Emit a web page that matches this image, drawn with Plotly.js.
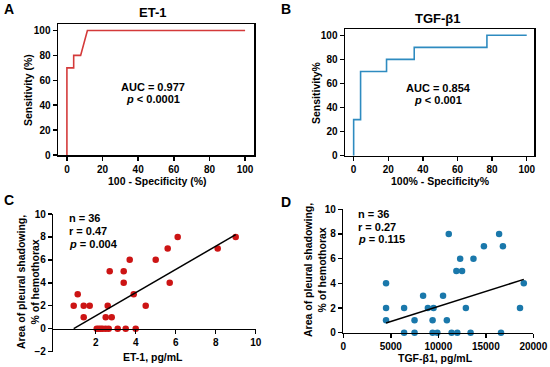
<!DOCTYPE html>
<html>
<head>
<meta charset="utf-8">
<script src="https://cdn.plot.ly/plotly-3.0.1.min.js"></script>
<style>html,body{margin:0;padding:0;background:#fff;}#chart{width:550px;height:367px;}</style>
</head>
<body>
<div id="chart"></div>
<script>
// ---- data ----
const rocA_fpr = [0, 0, 3.8, 3.8, 7.7, 11.5, 100];
const rocA_tpr = [0, 70, 70, 80, 80, 100, 100];
const rocB_fpr = [0, 0, 4, 4, 19, 19, 35, 35, 77, 77, 100];
const rocB_tpr = [0, 30, 30, 70, 70, 80, 80, 90, 90, 100, 100];

const et1_x = [0.9, 1.1, 1.4, 1.4, 1.7, 2.05, 2.15, 2.25, 2.35, 2.5, 2.65, 2.5, 2.6, 2.7, 2.8, 3.1, 3.4, 3.4, 3.5, 3.7, 3.9, 4.0, 4.5, 5.0, 5.6, 5.7, 6.1, 8.1, 9.0];
const et1_y = [2, 3, 2, 1, 2, 0, 0, 0, 0, 0, 0, 1, 2, 5, 1, 0, 5, 4, 0, 6, 3, 0, 2, 6, 7, 4, 8, 7, 8];
const et1_fit_x = [0.9, 9.0];
const et1_fit_y = [0, 8.2];

const tgf_x = [4500, 4500, 4500, 6400, 6400, 7500, 7500, 8400, 8900, 9500, 9400, 9400, 9900, 10500, 10900, 11100, 11400, 11900, 12500, 12300, 12000, 12900, 13400, 13700, 14800, 16400, 16800, 16600, 18600, 19000];
const tgf_y = [4, 2, 1, 2, 0, 1, 0, 3, 2, 2, 1, 0, 0, 3, 1, 8, 0, 5, 5, 6, 0, 2, 0, 6, 7, 8, 7, 0, 2, 4];
const tgf_fit_x = [4500, 19000];
const tgf_fit_y = [0.78, 4.32];

const rocTicks = [0, 20, 40, 60, 80, 100];
const cYTicks = [-2, 0, 2, 4, 6, 8, 10];
const cXTicks = [2, 4, 6, 8, 10];
const dXTicks = [0, 5000, 10000, 15000, 20000];
const dYTicks = [0, 2, 4, 6, 8, 10];

// ---- layout helpers ----
const W = 550, H = 367;
const fx = p => p / W;
const fy = p => 1 - p / H;
const FONT = 'Liberation Sans, Arial, sans-serif';
const RED_LINE = '#d43a3a', RED_DOT = '#cc1414';
const BLUE_LINE = '#2e8bc0', BLUE_DOT = '#1a78ab';

function ax(extra) {
  return Object.assign({
    showline: true, linecolor: '#000', linewidth: 1.5,
    ticks: 'outside', ticklen: 4, tickwidth: 1.5, tickcolor: '#000',
    showgrid: false, zeroline: false, fixedrange: true,
    tickfont: {family: FONT, size: 10, color: '#000', weight: 'bold'}
  }, extra);
}

const cYDom = [fy(351.6), fy(214)];
const cYRange = [-2, 10];
const cXPos = cYDom[0] + (cYDom[1] - cYDom[0]) * (0 - cYRange[0]) / (cYRange[1] - cYRange[0]);

const traces = [
  {x: rocA_fpr, y: rocA_tpr, xaxis: 'x', yaxis: 'y', mode: 'lines', line: {color: RED_LINE, width: 1.6}, cliponaxis: false, hoverinfo: 'skip'},
  {x: rocB_fpr, y: rocB_tpr, xaxis: 'x2', yaxis: 'y2', mode: 'lines', line: {color: BLUE_LINE, width: 1.6}, cliponaxis: false, hoverinfo: 'skip'},
  {x: et1_x, y: et1_y, xaxis: 'x3', yaxis: 'y3', mode: 'markers', marker: {color: RED_DOT, size: 6.5}, cliponaxis: false},
  {x: et1_fit_x, y: et1_fit_y, xaxis: 'x3', yaxis: 'y3', mode: 'lines', line: {color: '#000', width: 1.5}, cliponaxis: false},
  {x: tgf_x, y: tgf_y, xaxis: 'x4', yaxis: 'y4', mode: 'markers', marker: {color: BLUE_DOT, size: 6.5}, cliponaxis: false},
  {x: tgf_fit_x, y: tgf_fit_y, xaxis: 'x4', yaxis: 'y4', mode: 'lines', line: {color: '#000', width: 1.5}, cliponaxis: false}
];

function ann(text, px, py, opts) {
  return Object.assign({
    text: text, xref: 'paper', yref: 'paper', x: fx(px), y: fy(py),
    xanchor: 'center', yanchor: 'middle', showarrow: false,
    font: {family: FONT, size: 11, color: '#000', weight: 'bold'}
  }, opts || {});
}
const big = {family: FONT, size: 14, color: '#000', weight: 'bold'};
const ttl = {family: FONT, size: 13, color: '#000', weight: 'bold'};
const axt = {family: FONT, size: 10.5, color: '#000', weight: 'bold'};

const annotations = [
  ann('A', 9, 9, {font: big}),
  ann('B', 286, 9, {font: big}),
  ann('C', 9, 200, {font: big}),
  ann('D', 286, 202, {font: big}),
  ann('ET-1', 152, 13, {font: ttl}),
  ann('TGF-β1', 438, 18, {font: ttl}),
  ann('100 - Specificity (%)', 157, 181, {font: axt}),
  ann('100% - Specificity%', 440, 181, {font: axt}),
  ann('Sensitivity (%)', 28, 90, {font: axt, textangle: -90}),
  ann('Sensitivity%', 316, 93, {font: axt, textangle: -90}),
  ann('Area of pleural shadowing,<br>% of hemothorax', 28, 282, {font: axt, textangle: -90}),
  ann('Area of pleural shadowing,<br>% of hemothorax', 315, 270, {font: axt, textangle: -90}),
  ann('ET-1, pg/mL', 153, 357, {font: axt}),
  ann('TGF-β1, pg/mL', 435, 358, {font: axt}),
  ann('AUC = 0.977', 153, 87),
  ann('<i>p</i> < 0.0001', 153, 99),
  ann('AUC = 0.854', 438, 88),
  ann('<i>p</i> < 0.001', 438, 100),
  ann('n = 36', 67, 218, {xanchor: 'left'}),
  ann('r = 0.47', 67, 231, {xanchor: 'left'}),
  ann('<i>p</i> = 0.004', 67, 244, {xanchor: 'left'}),
  ann('n = 36', 356, 214, {xanchor: 'left'}),
  ann('r = 0.27', 356, 227, {xanchor: 'left'}),
  ann('<i>p</i> = 0.115', 356, 239, {xanchor: 'left'})
];

const layout = {
  width: W, height: H, margin: {l: 0, r: 0, t: 0, b: 0},
  paper_bgcolor: '#fff', plot_bgcolor: 'rgba(0,0,0,0)', showlegend: false,
  xaxis: ax({domain: [fx(58), fx(254)], range: [-5, 105], tickvals: rocTicks, mirror: true, anchor: 'y'}),
  yaxis: ax({domain: [fy(155), fy(24.3)], range: [0, 105], tickvals: rocTicks, mirror: true, anchor: 'x'}),
  xaxis2: ax({domain: [fx(345), fx(534)], range: [-5, 104.2], tickvals: rocTicks, mirror: true, anchor: 'y2'}),
  yaxis2: ax({domain: [fy(155.7), fy(29.3)], range: [0, 105], tickvals: rocTicks, mirror: true, anchor: 'x2'}),
  xaxis3: ax({domain: [fx(53.3), fx(255.7)], range: [-0.12, 10], tickvals: cXTicks, anchor: 'free', position: cXPos}),
  yaxis3: ax({domain: cYDom, range: cYRange, tickvals: cYTicks, anchor: 'x3'}),
  xaxis4: ax({domain: [fx(343.3), fx(533.3)], range: [0, 20000], tickvals: dXTicks, ticktext: dXTicks.map(String), anchor: 'y4'}),
  yaxis4: ax({domain: [fy(332.7), fy(209.3)], range: [0, 10], tickvals: dYTicks, anchor: 'x4'}),
  annotations: annotations
};

Plotly.newPlot('chart', traces, layout, {staticPlot: true, displayModeBar: false});
</script>
</body>
</html>
